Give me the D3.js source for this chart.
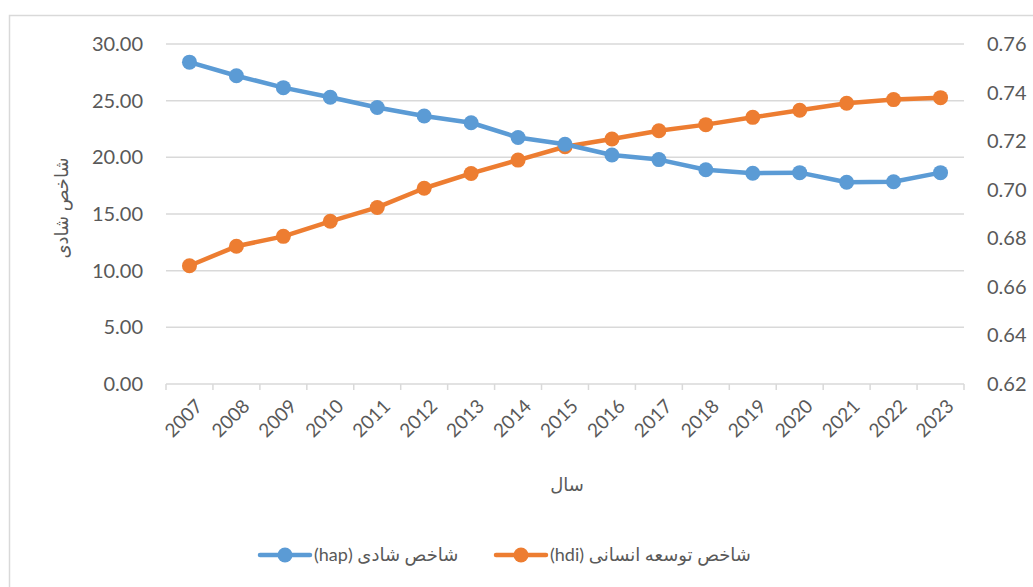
<!DOCTYPE html>
<html>
<head>
<meta charset="utf-8">
<script src="https://cdn.jsdelivr.net/npm/d3@7"></script>
<style>
  body { margin: 0; background: #fff; }
  text { font-family: Lato, "DejaVu Sans", sans-serif; fill: #595959; }
</style>
</head>
<body>
<svg id="chart" width="1033" height="587"></svg>
<script>
const years = ["2007", "2008", "2009", "2010", "2011", "2012", "2013", "2014", "2015",
  "2016", "2017", "2018", "2019", "2020", "2021", "2022", "2023"];
const hap = [28.4, 27.2, 26.15, 25.3, 24.4, 23.65, 23.05, 21.75, 21.15,
  20.2, 19.8, 18.9, 18.6, 18.65, 17.8, 17.85, 18.65];
const hdi = [0.6687, 0.6767, 0.6808, 0.687, 0.6927, 0.7006, 0.7067, 0.7122, 0.7177,
  0.7209, 0.7243, 0.7268, 0.7298, 0.7327, 0.7356, 0.7371, 0.7379];
const leftTicks = [0, 5, 10, 15, 20, 25, 30];
const rightTicks = [0.62, 0.64, 0.66, 0.68, 0.70, 0.72, 0.74, 0.76];

const blue = "#5B9BD5";
const orange = "#ED7D31";
const grid = "#d9d9d9";

const svg = d3.select("svg#chart");

// chart border (runs off the right and bottom of the picture)
svg.append("rect")
  .attr("x", 9.5).attr("y", 15.5)
  .attr("width", 1100).attr("height", 700)
  .style("fill", "none").style("stroke", grid).style("stroke-width", 1.5);

const plot = { left: 166, right: 964, top: 44, bottom: 384 };

const x = d3.scaleBand().domain(years).range([plot.left, plot.right]);
const yL = d3.scaleLinear().domain([0, 30]).range([plot.bottom, plot.top]);
const yR = d3.scaleLinear().domain([0.62, 0.76]).range([plot.bottom, plot.top]);

// gridlines
svg.append("g")
  .selectAll("line")
  .data(leftTicks.slice(1))
  .join("line")
  .attr("x1", plot.left).attr("x2", plot.right)
  .attr("y1", (d) => yL(d)).attr("y2", (d) => yL(d))
  .style("stroke", grid).style("stroke-width", 1.5);

// left axis labels
svg.append("g")
  .selectAll("text")
  .data(leftTicks)
  .join("text")
  .attr("x", 143)
  .attr("y", (d) => yL(d))
  .attr("dy", "0.35em")
  .attr("text-anchor", "end")
  .style("font-size", "20px")
  .text((d) => d.toFixed(2));

// right axis labels
svg.append("g")
  .selectAll("text")
  .data(rightTicks)
  .join("text")
  .attr("x", 987)
  .attr("y", (d) => yR(d))
  .attr("dy", "0.35em")
  .attr("text-anchor", "start")
  .style("font-size", "20px")
  .text((d) => d.toFixed(2));

// bottom axis
svg.append("line")
  .attr("x1", plot.left).attr("x2", plot.right)
  .attr("y1", plot.bottom).attr("y2", plot.bottom)
  .style("stroke", grid).style("stroke-width", 1.5);
svg.append("g")
  .selectAll("line")
  .data(d3.range(years.length + 1))
  .join("line")
  .attr("x1", (i) => plot.left + i * x.step())
  .attr("x2", (i) => plot.left + i * x.step())
  .attr("y1", plot.bottom).attr("y2", plot.bottom + 6)
  .style("stroke", grid).style("stroke-width", 1.5);

svg.append("g")
  .selectAll("text")
  .data(years)
  .join("text")
  .attr("transform", (d) => `translate(${x(d) + x.bandwidth() / 2 + 5},${plot.bottom + 14}) rotate(-45)`)
  .attr("text-anchor", "end")
  .attr("dy", "0.7em")
  .style("font-size", "19px")
  .text((d) => d);

// axis titles
svg.append("text")
  .attr("transform", "translate(62,208) rotate(-90)")
  .attr("text-anchor", "middle")
  .attr("dy", "0.35em")
  .style("font-size", "18px")
  .text("شاخص شادی");

svg.append("text")
  .attr("x", 567).attr("y", 485)
  .attr("text-anchor", "middle")
  .attr("dy", "0.35em")
  .style("font-size", "18px")
  .text("سال");

// series
const cx = (i) => x(years[i]) + x.bandwidth() / 2;
const series = [
  { values: hdi, scale: yR, color: orange },
  { values: hap, scale: yL, color: blue },
];
series.forEach((s) => {
  const line = d3.line().x((d, i) => cx(i)).y((d) => s.scale(d));
  svg.append("path")
    .attr("d", line(s.values))
    .style("fill", "none")
    .style("stroke", s.color)
    .style("stroke-width", 4.5)
    .style("stroke-linejoin", "round");
  svg.append("g")
    .selectAll("circle")
    .data(s.values)
    .join("circle")
    .attr("cx", (d, i) => cx(i))
    .attr("cy", (d) => s.scale(d))
    .attr("r", 7.5)
    .style("fill", s.color);
});

// legend
const legend = [
  { label: "شاخص شادی (hap)", color: blue, x: 260 },
  { label: "شاخص توسعه انسانی (hdi)", color: orange, x: 496 },
];
const lg = svg.append("g")
  .selectAll("g")
  .data(legend)
  .join("g")
  .attr("transform", (d) => `translate(${d.x},555)`);
lg.append("line")
  .attr("x1", 0).attr("x2", 50)
  .style("stroke", (d) => d.color)
  .style("stroke-width", 4.5)
  .style("stroke-linecap", "round");
lg.append("circle")
  .attr("cx", 25).attr("r", 7.5)
  .style("fill", (d) => d.color);
lg.append("text")
  .attr("x", 54)
  .attr("dy", "0.35em")
  .attr("direction", "rtl")
  .attr("text-anchor", "end")
  .style("font-size", "18px")
  .text((d) => d.label);
</script>
</body>
</html>
